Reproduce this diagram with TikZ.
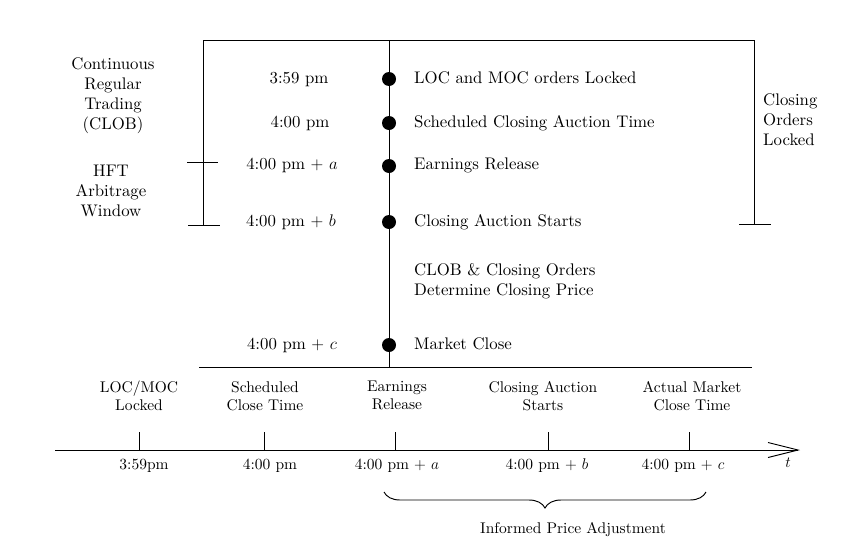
\documentclass[tikz,border=0pt]{standalone}
\usepackage{fix-cm}
\usepackage{fontspec}
\setmainfont{lmroman10-regular.otf}[ItalicFont=lmroman10-italic.otf,BoldFont=lmroman10-bold.otf]
\usetikzlibrary{arrows.meta,decorations.pathreplacing}
\newcommand\topfnt{\fontsize{16.8}{20}\selectfont}
\newcommand\botfnt{\fontsize{15.5}{18}\selectfont}
\begin{document}
\begin{tikzpicture}[x=1pt,y=-1pt,
  ln/.style={line width=0.95pt},
  dot/.style={circle,fill=black,inner sep=0pt,minimum size=14pt},
  tlab/.style={font=\topfnt,inner sep=0pt,anchor=base},
  rlab/.style={font=\topfnt,inner sep=0pt,anchor=base west},
  blk/.style={font=\topfnt,inner sep=0pt,align=center,anchor=north},
  blab/.style={font=\botfnt,inner sep=0pt,align=center,anchor=north},
  alab/.style={font=\botfnt,inner sep=0pt,anchor=base},
]
\useasboundingbox (0,0) rectangle (867,544);

% ---- upper frame ----
\coordinate (fl) at (203,40);
\coordinate (fm) at (389,40);
\coordinate (fr) at (754,40);
\coordinate (flb) at (203,225);
\coordinate (frb) at (754,224);
\coordinate (flb1) at (188,225);
\coordinate (flb2) at (220,225);
\coordinate (frb1) at (739,224);
\coordinate (frb2) at (771,224);
\coordinate (ftk1) at (187,162);
\coordinate (ftk2) at (218,162);
\coordinate (cbot) at (389,368);
\coordinate (sepl) at (199,367);
\coordinate (sepr) at (752,367);

\draw[ln] (flb) -- (fl) -- (fr) -- (frb);
\draw[ln] (flb1) -- (flb2);
\draw[ln] (frb1) -- (frb2);
\draw[ln] (ftk1) -- (ftk2);
\draw[ln] (fm) -- (cbot);
\draw[ln] (sepl) -- (sepr);

% ---- dots ----
\node[dot] (d1) at (389,79) {};
\node[dot] (d2) at (389,123) {};
\node[dot] (d3) at (389,166) {};
\node[dot] (d4) at (389,222) {};
\node[dot] (d5) at (389,345) {};

% ---- time labels (left of line) ----
\node[tlab] (t1) at (299,83) {3:59 pm};
\node[tlab] (t2) at (300,127) {4:00 pm};
\node[tlab] (t3) at (292,169) {4:00 pm $+$ $a$};
\node[tlab] (t4) at (291,226) {4:00 pm $+$ $b$};
\node[tlab] (t5) at (292,349) {4:00 pm $+$ $c$};

% ---- event labels (right of line) ----
\node[rlab] (e1) at (414,83) {LOC and MOC orders Locked};
\node[rlab] (e2) at (414,127) {Scheduled Closing Auction Time};
\node[rlab] (e3) at (414,169) {Earnings Release};
\node[rlab] (e4) at (414,226) {Closing Auction Starts};
\node[rlab] (e5) at (414,275) {CLOB \& Closing Orders};
\node[rlab] (e6) at (414,295) {Determine Closing Price};
\node[rlab] (e7) at (414,349) {Market Close};

% ---- side blocks ----
\node[blk] (crt) at (113,57) {Continuous\\Regular\\Trading\\(CLOB)};
\node[blk] (hft) at (111,165) {HFT\\Arbitrage\\Window};
\node[blk,align=left,anchor=north west] (col) at (763,93) {Closing\\Orders\\Locked};

% ---- time axis ----
\coordinate (ax0) at (55,450);
\coordinate (ax1) at (800,450);
\draw[ln,-{Straight Barb[length=30pt,width=15pt]}] (ax0) -- (ax1);
\node[alab] (tt) at (788,467) {$t$};

\foreach \n/\x in {k1/139,k2/264,k3/395,k4/548,k5/689}{
  \coordinate (\n a) at (\x,432);
  \coordinate (\n b) at (\x,450);
  \draw[ln] (\n a) -- (\n b);
}

\node[blab] (l1) at (139,381) {LOC/MOC\\Locked};
\node[blab] (l2) at (265,381) {Scheduled\\Close Time};
\node[blab] (l3) at (397,381) {Earnings\\Release};
\node[blab] (l4) at (543,381) {Closing Auction\\Starts};
\node[blab] (l5) at (692,381) {Actual Market\\Close Time};

\node[alab] (a1) at (144,469) {3:59pm};
\node[alab] (a2) at (270,469) {4:00 pm};
\node[alab] (a3) at (397,469) {4:00 pm $+$ $a$};
\node[alab] (a4) at (547,469) {4:00 pm $+$ $b$};
\node[alab] (a5) at (683,469) {4:00 pm $+$ $c$};

% ---- brace ----
\coordinate (br1) at (384,492);
\coordinate (br2) at (706,492);
\draw[ln,decorate,decoration={brace,mirror,amplitude=16pt}] (br1) -- (br2);
\node[alab] (ipa) at (573,533) {Informed Price Adjustment};
\end{tikzpicture}
\end{document}
